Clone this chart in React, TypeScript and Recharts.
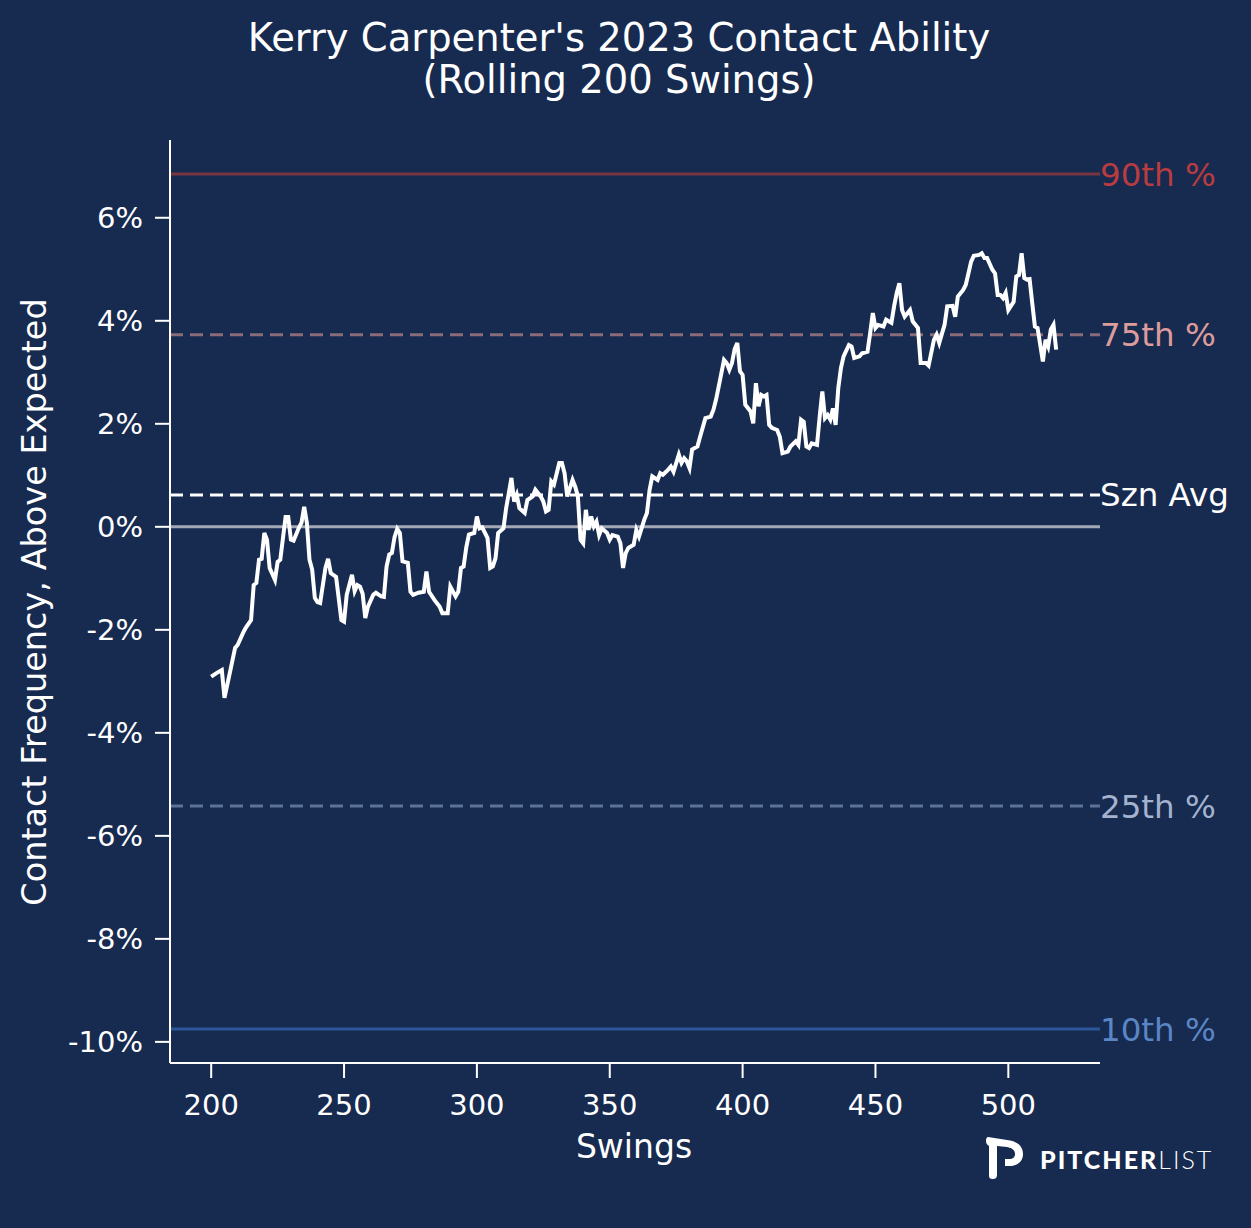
import { LineChart, Line, XAxis, YAxis, ReferenceLine } from "recharts";

// rolling 200-swing contact rate above expected
const swings = [
  200, 202, 204, 205, 207, 209, 210, 212, 213, 215, 216, 217, 218, 219, 220, 221, 222, 224, 225, 226,
  228, 229, 230, 231, 233, 234, 235, 236, 237, 238, 239, 240, 241, 243, 244, 245, 247, 249, 250, 251,
  253, 254, 255, 256, 257, 258, 259, 261, 262, 264, 265, 266, 267, 268, 269, 270, 271, 272, 274, 275,
  276, 278, 280, 281, 282, 284, 286, 287, 289, 290, 292, 293, 294, 295, 296, 297, 299, 300, 301, 302,
  304, 305, 306, 307, 308, 310, 311, 312, 313, 314, 315, 316, 318, 319, 321, 322, 324, 325, 326, 327,
  328, 329, 331, 332, 333, 334, 336, 337, 338, 339, 340, 341, 342, 343, 344, 345, 346, 347, 349, 350,
  351, 353, 354, 355, 356, 357, 359, 360, 361, 363, 364, 365, 366, 368, 369, 370, 372, 373, 374, 376,
  377, 378, 379, 380, 381, 383, 384, 386, 388, 389, 390, 391, 393, 394, 395, 396, 397, 398, 399, 400,
  401, 403, 404, 405, 406, 407, 408, 409, 410, 411, 413, 414, 415, 417, 418, 420, 421, 422, 423, 424,
  425, 426, 428, 429, 430, 431, 432, 433, 434, 435, 436, 437, 438, 440, 441, 442, 444, 445, 447, 448,
  449, 450, 451, 453, 454, 456, 457, 458, 459, 460, 461, 463, 464, 466, 467, 469, 470, 472, 473, 474,
  476, 477, 479, 480, 481, 483, 484, 486, 487, 489, 490, 491, 492, 494, 495, 496, 497, 498, 499, 500,
  502, 503, 504, 505, 506, 507, 508, 509, 510, 511, 513, 514, 515, 516, 517, 518,
];

const contact = [
  -2.91, -2.84, -2.78, -3.32, -2.84, -2.35, -2.29, -2.06, -1.96, -1.81, -1.13, -1.09, -0.64, -0.62, -0.12, -0.25, -0.8, -1.03, -0.68, -0.64,
  0.19, 0.19, -0.25, -0.27, -0.02, 0.08, 0.39, 0.08, -0.64, -0.83, -1.38, -1.46, -1.48, -0.8, -0.62, -0.9, -0.97, -1.81, -1.84, -1.32,
  -0.93, -1.25, -1.13, -1.16, -1.3, -1.77, -1.55, -1.32, -1.28, -1.35, -1.36, -0.77, -0.54, -0.51, -0.2, -0.04, -0.12, -0.67, -0.7, -1.26,
  -1.32, -1.28, -1.26, -0.87, -1.26, -1.42, -1.55, -1.68, -1.68, -1.16, -1.35, -1.26, -0.8, -0.77, -0.4, -0.15, -0.12, 0.2, -0.03, -0.01,
  -0.22, -0.8, -0.77, -0.61, -0.12, -0.03, 0.36, 0.65, 0.95, 0.49, 0.62, 0.36, 0.27, 0.52, 0.59, 0.72, 0.59, 0.49, 0.3, 0.33,
  0.88, 0.82, 1.24, 1.24, 1.04, 0.59, 0.91, 0.78, 0.59, -0.25, -0.32, 0.33, -0.06, 0.2, 0.01, 0.1, -0.16, -0.03, -0.12, -0.25,
  -0.16, -0.19, -0.32, -0.8, -0.51, -0.41, -0.35, -0.06, -0.19, 0.14, 0.27, 0.72, 0.98, 0.91, 1.04, 1.01, 1.11, 1.17, 1.07, 1.4,
  1.24, 1.33, 1.27, 1.14, 1.5, 1.56, 1.75, 2.11, 2.14, 2.27, 2.47, 2.72, 3.24, 3.18, 3.05, 3.18, 3.45, 3.57, 3.02, 2.95,
  2.37, 2.24, 2.01, 2.79, 2.34, 2.56, 2.53, 2.56, 1.98, 1.92, 1.88, 1.75, 1.43, 1.46, 1.56, 1.66, 1.59, 2.08, 2.04, 1.56,
  1.53, 1.62, 1.59, 2.14, 2.63, 2.11, 2.17, 2.08, 2.3, 1.98, 2.69, 3.08, 3.31, 3.53, 3.5, 3.28, 3.31, 3.37, 3.4, 3.76,
  4.15, 3.86, 3.92, 3.89, 4.02, 3.96, 4.28, 4.54, 4.73, 4.21, 4.08, 4.21, 3.99, 3.86, 3.18, 3.18, 3.13, 3.63, 3.73, 3.57,
  3.92, 4.28, 4.29, 4.08, 4.47, 4.6, 4.7, 5.15, 5.26, 5.28, 5.31, 5.22, 5.22, 4.99, 4.92, 4.5, 4.5, 4.44, 4.54, 4.21,
  4.37, 4.86, 4.89, 5.31, 4.83, 4.8, 4.81, 4.34, 3.89, 3.86, 3.21, 3.63, 3.5, 3.83, 3.92, 3.44,
];

const xTicks = [200, 250, 300, 350, 400, 450, 500];
const yTicks = [-10, -8, -6, -4, -2, 0, 2, 4, 6];

// percentile benchmarks
const benchLabels = ["90th %", "75th %", "Szn Avg", "25th %", "10th %"];
const benchValues = [6.85, 3.73, 0.62, -5.42, -9.75];
const benchLine = ["#7a3545", "#8a6b7a", "#ffffff", "#5c7398", "#2c5699"];
const benchText = ["#b83c40", "#dd9c9c", "#ffffff", "#a3b3cf", "#5b86c6"];
const benchDash = ["", "13 7", "13 7", "13 7", ""];

const data = swings.map((s, i) => ({ swings: s, contact: contact[i] }));

const BG = "#172a4f";
const FONT = "'DejaVu Sans', sans-serif";
const axisStroke = { stroke: "#fff", strokeWidth: 2 };

const App = () => {
  return (
    <div
      style={{
        position: "absolute",
        top: 0,
        left: 0,
        width: 1251,
        height: 1228,
        background: BG,
        fontFamily: FONT,
        color: "#fff",
      }}
    >
      <div
        style={{
          position: "absolute",
          top: 17,
          left: 619,
          transform: "translateX(-50%)",
          textAlign: "center",
          fontSize: 38.5,
          lineHeight: "42px",
          whiteSpace: "nowrap",
        }}
      >
        Kerry Carpenter's 2023 Contact Ability
        <br />
        (Rolling 200 Swings)
      </div>

      <LineChart
        width={1251}
        height={1228}
        data={data}
        margin={{ top: 140, right: 151, left: 70, bottom: 105 }}
      >
        <XAxis
          dataKey="swings"
          type="number"
          domain={[184.5, 534.5]}
          ticks={xTicks}
          height={60}
          axisLine={axisStroke}
          tickLine={axisStroke}
          tickSize={15}
          tickMargin={16}
          tick={{ fill: "#fff", fontSize: 29 }}
        />
        <YAxis
          type="number"
          domain={[-10.41, 7.51]}
          ticks={yTicks}
          width={100}
          axisLine={axisStroke}
          tickLine={axisStroke}
          tickSize={15}
          tickMargin={12}
          tickFormatter={(v: number) => `${v}%`}
          tick={{ fill: "#fff", fontSize: 29 }}
        />
        <ReferenceLine y={0} stroke="#a3a8b6" strokeWidth={3} />
        {benchValues.map((v, i) => (
          <ReferenceLine
            key={benchLabels[i]}
            y={v}
            stroke={benchLine[i]}
            strokeWidth={3}
            strokeDasharray={benchDash[i] || undefined}
            label={{
              value: benchLabels[i],
              position: "right",
              offset: 0,
              fill: benchText[i],
              fontSize: 32.5,
            }}
          />
        ))}
        <Line
          dataKey="contact"
          stroke="#fff"
          strokeWidth={4}
          dot={false}
          isAnimationActive={false}
        />
      </LineChart>

      <div
        style={{
          position: "absolute",
          left: 634,
          top: 1146,
          transform: "translate(-50%, -50%)",
          fontSize: 33,
          whiteSpace: "nowrap",
        }}
      >
        Swings
      </div>
      <div
        style={{
          position: "absolute",
          left: 34,
          top: 602,
          transform: "translate(-50%, -50%) rotate(-90deg)",
          fontSize: 33.5,
          whiteSpace: "nowrap",
        }}
      >
        Contact Frequency, Above Expected
      </div>

      <svg
        width={40}
        height={46}
        viewBox="0 0 40 46"
        style={{ position: "absolute", left: 985, top: 1134 }}
      >
        <path
          d="M3 3 L22 6 C32 7 38 12 38 20 C38 28 32 32 24 32 L20 32 L20 25 L24 25 C28 25 30 23 30 20 C30 16 27 14 22 13 L12 12 L12 41 C12 44 10 45 8 45 C5 45 4 44 4 41 L4 12 C2 11 1 9 1 7 C1 4 2 3 3 3 Z"
          fill="#fff"
        />
      </svg>
      <div
        style={{
          position: "absolute",
          left: 1040,
          top: 1144,
          fontFamily: "Lato, sans-serif",
          fontSize: 25,
          lineHeight: "30px",
          letterSpacing: 2,
          whiteSpace: "nowrap",
        }}
      >
        <span style={{ fontWeight: 900 }}>PITCHER</span>
        <span style={{ fontWeight: 300 }}>LIST</span>
      </div>
    </div>
  );
};

export default App;
